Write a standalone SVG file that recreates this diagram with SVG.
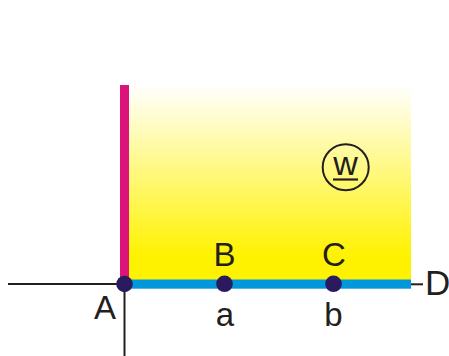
<svg xmlns="http://www.w3.org/2000/svg" width="449" height="356" viewBox="0 0 449 356">
<defs>
<linearGradient id="yg" x1="0" y1="0" x2="0" y2="1">
<stop offset="0" stop-color="#FFFFFF"/>
<stop offset="0.88" stop-color="#FFF200"/>
<stop offset="1" stop-color="#FFF200"/>
</linearGradient>
</defs>
<style>
.lbl{font-family:"Liberation Sans",Arial,sans-serif;font-size:33px;fill:#231F20;text-anchor:middle}
.ln{stroke:#231F20;stroke-width:2;fill:none}
.dot{fill:#2B1B5E}
</style>
<rect x="129" y="85" width="282" height="195" fill="url(#yg)"/>
<g id="connectors">
<line class="ln" x1="8" y1="284" x2="122" y2="284"/>
<line class="ln" x1="124.5" y1="284" x2="124.5" y2="356" stroke-width="2.5"/>
<line class="ln" x1="410" y1="284.3" x2="423" y2="284.3"/>
<rect x="120" y="85" width="9" height="199" fill="#DC1378"/>
<rect x="124" y="279.5" width="287" height="9.2" fill="#0097DB"/>
</g>
<g id="A"><circle class="dot" cx="124.5" cy="284" r="8.3"/><text class="lbl" x="105" y="318.5">A</text></g>
<g id="B"><circle class="dot" cx="224.5" cy="283.8" r="8.3"/><text class="lbl" x="224.5" y="266">B</text><text class="lbl" x="225" y="326">a</text></g>
<g id="C"><circle class="dot" cx="333.5" cy="283.8" r="8.3"/><text class="lbl" x="334" y="266">C</text><text class="lbl" x="333.5" y="326">b</text></g>
<g id="D"><text class="lbl" x="425" y="295" style="text-anchor:start;font-size:35px">D</text></g>
<g id="W">
<circle cx="345.7" cy="167.3" r="23" fill="none" stroke="#231F20" stroke-width="2"/>
<text class="lbl" x="345.5" y="175" style="font-size:34px">w</text>
<line x1="333" y1="179.5" x2="358" y2="179.5" stroke="#231F20" stroke-width="2.2"/>
</g>
</svg>
